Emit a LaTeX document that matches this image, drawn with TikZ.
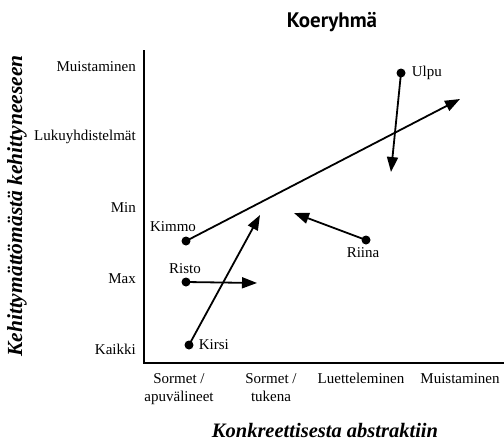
\documentclass[tikz,border=0pt]{standalone}
\usepackage{fontspec}
\setmainfont{Liberation Serif}
\newfontfamily\titlefont{PT Sans}
\usetikzlibrary{arrows.meta}

\begin{document}
\begin{tikzpicture}[
            x=1pt, y=-1pt,
            dot/.style={circle, fill, inner sep=0pt, minimum size=9pt},
            arrow/.style={-{Triangle[length=15pt, width=11pt]}, line width=1.8pt, shorten <=-3pt},
            axis/.style={line width=2.4pt},
            lbl/.style={font=\fontsize{15}{17}\selectfont, inner sep=1pt},
            tick/.style={font=\fontsize{15}{17}\selectfont, anchor=east, inner sep=0pt},
            xtick/.style={font=\fontsize{15}{18}\selectfont, align=center, anchor=north, inner sep=0pt},
            axtitle/.style={font=\fontsize{20.5}{22}\selectfont\bfseries\itshape, inner sep=0pt}
            ]
            \useasboundingbox (0,0) rectangle (504,445);

            % Title and axes
            \node[font=\titlefont\bfseries\fontsize{21}{23}\selectfont] (title) at (332,22) {Koeryhmä};
            \coordinate (top) at (144,50);
            \coordinate (origin) at (144,363);
            \coordinate (right) at (504,363);
            \draw[axis] (top) -- (origin) -- (right);

            % Y ticks
            \node[tick] (y5) at (136,67) {Muistaminen};
            \node[tick] (y4) at (136,137) {Lukuyhdistelmät};
            \node[tick] (y3) at (136,208) {Min};
            \node[tick] (y2) at (136,279) {Max};
            \node[tick] (y1) at (136,349) {Kaikki};

            % X ticks
            \node[xtick] (x1) at (179,373) {Sormet /\\apuvälineet};
            \node[xtick] (x2) at (271,373) {Sormet /\\tukena};
            \node[xtick] (x3) at (361,373) {Luetteleminen};
            \node[xtick] (x4) at (460,373) {Muistaminen};

            % Axis titles
            \node[axtitle, anchor=base] (xtitle) at (325,437) {Konkreettisesta abstraktiin};
            \node[axtitle, rotate=90, font=\fontsize{21.5}{23}\selectfont\bfseries\itshape] (ytitle) at (17,206) {Kehittymättömästä kehittyneeseen};

            % Pupils
            \node[dot] (ulpu) at (401,73) {};
            \node[dot] (kimmo) at (186,241) {};
            \node[dot] (risto) at (186,282) {};
            \node[dot] (kirsi) at (189,345) {};
            \node[dot] (riina) at (366,240) {};
            \node[lbl, right=5pt] at (ulpu.east) {Ulpu};
            \node[lbl, anchor=south] at (173,233) {Kimmo};
            \node[lbl, anchor=south] at (185,275) {Risto};
            \node[lbl, right=4pt] at (kirsi.east) {Kirsi};
            \node[lbl, anchor=north] at (363,246) {Riina};

            % Arrow ends
            \coordinate (ulpuEnd) at (391,172);
            \coordinate (kimmoEnd) at (460,99);
            \coordinate (ristoEnd) at (257,283);
            \coordinate (kirsiEnd) at (260,215);
            \coordinate (riinaEnd) at (294,213);

            % Arrows
            \draw[arrow] (ulpu) -- (ulpuEnd);
            \draw[arrow] (kimmo) -- (kimmoEnd);
            \draw[arrow] (risto) -- (ristoEnd);
            \draw[arrow] (kirsi) -- (kirsiEnd);
            \draw[arrow] (riina) -- (riinaEnd);

        \end{tikzpicture}
\end{document}
